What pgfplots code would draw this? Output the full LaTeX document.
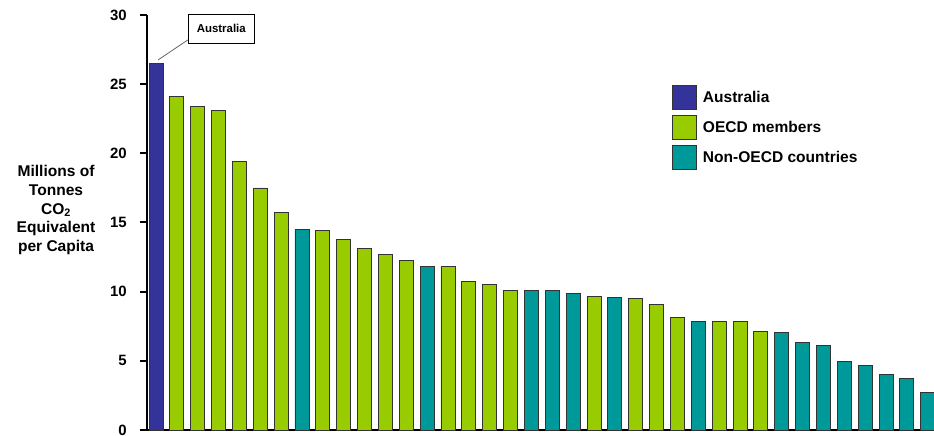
\documentclass[border=0pt]{standalone}
\usepackage{pgfplots}
\pgfplotsset{compat=1.18}
\usepackage{fontspec}
\setmainfont{Liberation Sans}
\definecolor{ausblue}{HTML}{333399}
\definecolor{oecdgreen}{HTML}{99CC00}
\definecolor{nonteal}{HTML}{009999}
\begin{document}
\begin{tikzpicture}
\useasboundingbox (-147bp,-6bp) rectangle (787bp,430bp);
\begin{axis}[
  at={(0,0)}, anchor=south west,
  scale only axis, width=787bp, height=415bp,
  xmin=-0.43, xmax=37.30, ymin=0, ymax=30,
  ybar, /pgf/bar shift=0pt, bar width=14bp,
  axis x line=bottom, axis y line=left,
  axis line style={line width=2.5bp, -, black},
  xtick=\empty,
  ytick={0,5,10,15,20,25,30},
  tick align=outside, major tick length=7bp,
  tick style={line width=2bp, black},
  /pgf/number format/assume math mode=true,
  yticklabel style={font=\fontsize{15}{18}\selectfont\bfseries, inner sep=0pt, anchor=east, xshift=-13bp},
  ylabel={Millions of\\Tonnes\\CO\textsubscript{2}\\Equivalent\\per Capita},
  ylabel style={rotate=-90, align=center, anchor=center, at={(axis description cs:-0.1156,0.53)}, font=\fontsize{15.6}{19}\selectfont\bfseries},
  clip=false,
  legend style={draw=none, fill=none, at={(axis description cs:0.667,0.831)}, anchor=north west,
    inner sep=0pt, row sep=5bp, column sep=5bp,
    nodes={inner sep=1bp, font=\fontsize{15.6}{18}\selectfont\bfseries},
    cells={anchor=west}},
  legend image code/.code={\draw[#1, line width=0.8bp] (0bp,-12bp) rectangle (24bp,12bp);},
]
\addplot[fill=ausblue, draw=black!80, line width=0.8bp] coordinates {(0,26.5)};
\addlegendentry{Australia}
\addplot[fill=oecdgreen, draw=black!80, line width=0.8bp] coordinates {
(1,24.1) (2,23.4) (3,23.1) (4,19.4) (5,17.5) (6,15.7) (8,14.45) (9,13.8) (10,13.1) (11,12.7) (12,12.25) (14,11.85) (15,10.75) (16,10.5) (17,10.1) (21,9.65) (23,9.5) (24,9.05) (25,8.15) (27,7.83) (28,7.83) (29,7.15)};
\addlegendentry{OECD members}
\addplot[fill=nonteal, draw=black!80, line width=0.8bp] coordinates {
(7,14.5) (13,11.85) (18,10.1) (19,10.1) (20,9.9) (22,9.57) (26,7.83) (30,7.05) (31,6.3) (32,6.1) (33,4.95) (34,4.65) (35,4.0) (36,3.75) (37,2.7)};
\addlegendentry{Non-OECD countries}
\draw[black!60, line width=0.8bp] (axis cs:0.1,26.75) -- (axis cs:1.53,28.2);
\node[draw=black, line width=0.8bp, fill=white, anchor=west, minimum width=66bp, minimum height=29bp, inner sep=0pt, font=\fontsize{11.5}{13}\selectfont\bfseries] at (axis cs:1.53,29.03) {Australia};
\end{axis}
\end{tikzpicture}
\end{document}
